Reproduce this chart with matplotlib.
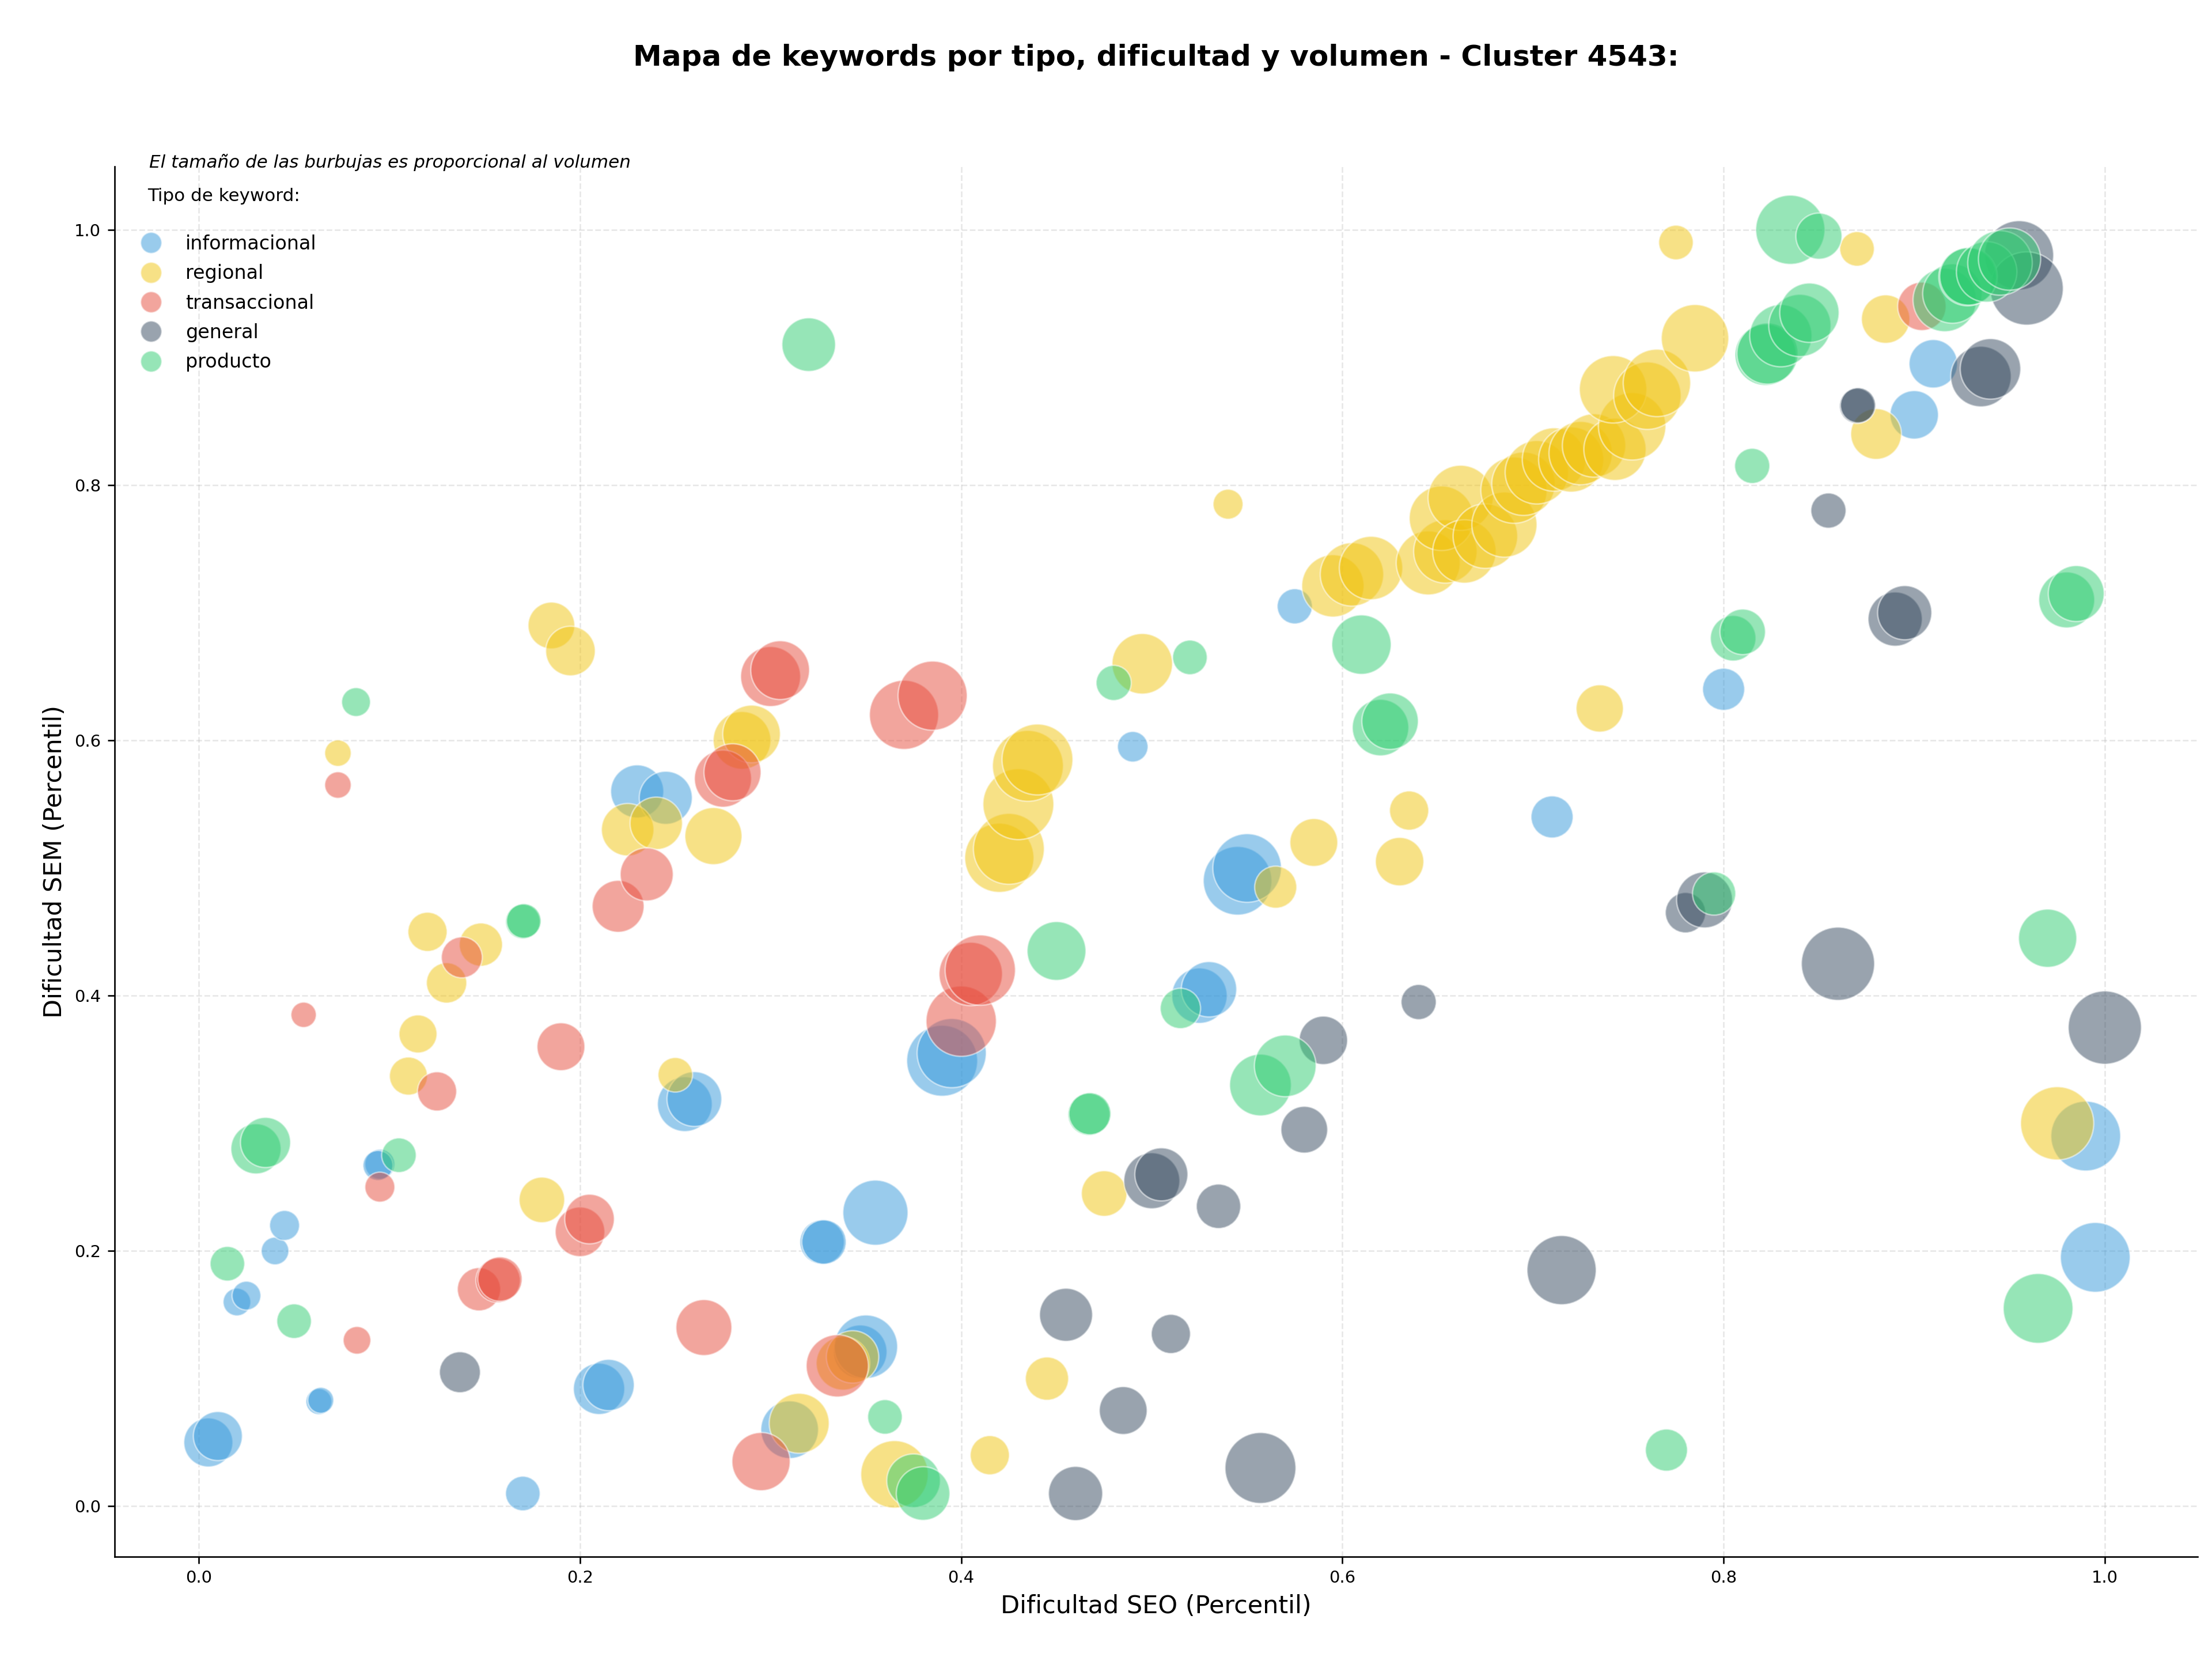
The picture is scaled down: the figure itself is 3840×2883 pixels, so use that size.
import matplotlib
matplotlib.use("Agg")
import matplotlib.pyplot as plt
from matplotlib.lines import Line2D

# ---------------- data ----------------
tipos = ["informacional", "regional", "transaccional", "general", "producto"]
colores = ["#3498db", "#f1c40f", "#e74c3c", "#34495e", "#2ecc71"]

info_seo = [0.005, 0.010, 0.020, 0.025, 0.040, 0.045, 0.063, 0.064, 0.095, 0.094,
            0.170, 0.210, 0.215, 0.230, 0.245, 0.255, 0.260, 0.310, 0.327, 0.328,
            0.347, 0.350, 0.355, 0.390, 0.395, 0.490, 0.525, 0.530, 0.545, 0.550,
            0.575, 0.710, 0.800, 0.900, 0.910, 0.990, 0.995]
info_sem = [0.050, 0.055, 0.160, 0.165, 0.200, 0.220, 0.082, 0.083, 0.268, 0.267,
            0.010, 0.092, 0.095, 0.560, 0.555, 0.315, 0.319, 0.060, 0.207, 0.207,
            0.121, 0.125, 0.230, 0.349, 0.355, 0.595, 0.400, 0.405, 0.490, 0.500,
            0.705, 0.540, 0.640, 0.855, 0.895, 0.290, 0.195]
info_vol = [6500, 6500, 2070, 2250, 2070, 2430, 1820, 1820, 2430, 2430,
            3240, 7130, 7130, 7620, 7620, 8120, 8120, 9000, 5340, 5340,
            7780, 10890, 11490, 13620, 12960, 2530, 8300, 8300, 12750, 12750,
            3350, 4800, 4800, 6350, 6350, 13180, 13180]

reg_seo = [0.073, 0.110, 0.115, 0.120, 0.130, 0.148, 0.180, 0.185, 0.195, 0.225,
           0.240, 0.250, 0.270, 0.285, 0.290, 0.315, 0.338, 0.343, 0.365, 0.415,
           0.420, 0.425, 0.430, 0.435, 0.440, 0.445, 0.475, 0.495, 0.540, 0.565,
           0.585, 0.630, 0.635, 0.735, 0.775, 0.870, 0.880, 0.885, 0.975,
           0.595, 0.605, 0.615, 0.645, 0.654, 0.652, 0.662, 0.664, 0.675, 0.685,
           0.690, 0.695, 0.702, 0.711, 0.720, 0.725, 0.732, 0.743, 0.752, 0.742,
           0.760, 0.765, 0.785]
reg_sem = [0.590, 0.337, 0.370, 0.450, 0.410, 0.440, 0.240, 0.690, 0.670, 0.530,
           0.535, 0.338, 0.525, 0.600, 0.605, 0.065, 0.112, 0.117, 0.025, 0.040,
           0.508, 0.515, 0.550, 0.580, 0.585, 0.100, 0.245, 0.660, 0.785, 0.485,
           0.520, 0.505, 0.545, 0.625, 0.990, 0.985, 0.840, 0.930, 0.300,
           0.721, 0.730, 0.735, 0.739, 0.748, 0.774, 0.790, 0.748, 0.760, 0.769,
           0.796, 0.801, 0.810, 0.820, 0.820, 0.825, 0.831, 0.828, 0.846, 0.875,
           0.870, 0.880, 0.915]
reg_vol = [1900, 3920, 3920, 4160, 4410, 5060, 5620, 5910, 6660, 7450,
           7450, 3240, 8820, 9000, 9000, 9740, 7780, 7450, 12320, 4160,
           12960, 13620, 13620, 13620, 13620, 5060, 5620, 9920, 2430, 4800,
           6200, 6350, 4160, 6050, 3240, 3240, 6970, 6350, 14520,
           10500, 10890, 10890, 11090, 10890, 11290, 11490, 10890, 11290, 11490,
           11900, 10890, 10890, 10890, 11490, 10890, 10890, 10500, 12320, 12320,
           12320, 12320, 12320]

tra_seo = [0.055, 0.073, 0.083, 0.095, 0.125, 0.138, 0.147, 0.157, 0.158, 0.190,
           0.200, 0.205, 0.220, 0.235, 0.265, 0.275, 0.280, 0.295, 0.300, 0.305,
           0.335, 0.370, 0.385, 0.400, 0.405, 0.410, 0.904]
tra_sem = [0.385, 0.565, 0.130, 0.250, 0.325, 0.430, 0.170, 0.177, 0.178, 0.360,
           0.215, 0.225, 0.470, 0.495, 0.140, 0.570, 0.575, 0.035, 0.650, 0.655,
           0.110, 0.620, 0.635, 0.380, 0.417, 0.420, 0.940]
tra_vol = [1740, 1900, 2070, 2430, 4160, 4540, 5060, 5340, 5340, 6200,
           6660, 6660, 7290, 7620, 8470, 8820, 8820, 9180, 9740, 9360,
           10500, 12960, 12960, 13400, 10890, 13400, 6350]

gen_seo = [0.137, 0.455, 0.460, 0.485, 0.500, 0.505, 0.510, 0.535, 0.557, 0.580,
           0.590, 0.640, 0.715, 0.780, 0.790, 0.855, 0.860, 0.870, 0.8705, 0.890,
           0.895, 0.935, 0.940, 0.955, 0.959, 1.000]
gen_sem = [0.105, 0.150, 0.010, 0.075, 0.255, 0.260, 0.135, 0.235, 0.030, 0.295,
           0.365, 0.395, 0.185, 0.465, 0.475, 0.780, 0.425, 0.862, 0.8625, 0.695,
           0.700, 0.885, 0.891, 0.980, 0.954, 0.375]
gen_vol = [4540, 7620, 7950, 6200, 8470, 7620, 4160, 5340, 13620, 5910,
           6350, 3350, 12960, 4410, 8470, 3350, 14520, 3350, 3350, 7950,
           7950, 9920, 9920, 12960, 14520, 14520]

pro_seo = [0.015, 0.030, 0.035, 0.050, 0.0825, 0.105, 0.170, 0.1705, 0.320, 0.360,
           0.375, 0.380, 0.450, 0.467, 0.4675, 0.480, 0.515, 0.520, 0.557, 0.570,
           0.610, 0.620, 0.625, 0.770, 0.795, 0.805, 0.810, 0.815, 0.822, 0.823,
           0.830, 0.840, 0.845, 0.835, 0.850, 0.916, 0.920, 0.928, 0.9285, 0.938,
           0.945, 0.950, 0.965, 0.970, 0.980, 0.985]
pro_sem = [0.190, 0.280, 0.285, 0.145, 0.630, 0.275, 0.458, 0.4585, 0.910, 0.070,
           0.020, 0.010, 0.435, 0.307, 0.3075, 0.645, 0.390, 0.665, 0.330, 0.345,
           0.675, 0.610, 0.615, 0.044, 0.480, 0.680, 0.685, 0.815, 0.902, 0.903,
           0.917, 0.925, 0.935, 1.000, 0.995, 0.945, 0.950, 0.963, 0.9635, 0.967,
           0.974, 0.977, 0.155, 0.445, 0.710, 0.715]
pro_vol = [3240, 6810, 6810, 3240, 2250, 3240, 3240, 3240, 7780, 3240,
           7780, 7780, 9360, 4800, 4800, 3350, 4410, 3240, 10310, 10310,
           9550, 8640, 8640, 4800, 5060, 5620, 5620, 3350, 10110, 10110,
           10500, 10500, 9550, 12960, 5760, 10890, 9550, 9000, 9000, 9920,
           11290, 10500, 13180, 9180, 8470, 8470]

series = [
    (info_seo, info_sem, info_vol),
    (reg_seo, reg_sem, reg_vol),
    (tra_seo, tra_sem, tra_vol),
    (gen_seo, gen_sem, gen_vol),
    (pro_seo, pro_sem, pro_vol),
]

titulo = "Mapa de keywords por tipo, dificultad y volumen - Cluster 4543:"
nota = "El tamaño de las burbujas es proporcional al volumen"

# ---------------- figure ----------------
fig = plt.figure(figsize=(16, 12.0125), dpi=240)
ax = fig.add_axes([0.0517, 0.0628, 0.9419, 0.8370])

for (sx, sy, vol), c, t in zip(series, colores, tipos):
    ax.scatter(sx, sy, s=[v / 10.0 for v in vol], color=c, alpha=0.5,
               edgecolors="white", linewidths=0.8, label=t)

ax.set_xlim(-0.0443, 1.0488)
ax.set_ylim(-0.0395, 1.0496)
ax.set_xticks([0.0, 0.2, 0.4, 0.6, 0.8, 1.0])
ax.set_yticks([0.0, 0.2, 0.4, 0.6, 0.8, 1.0])
ax.tick_params(labelsize=8.7)
ax.grid(True, linestyle="--", alpha=0.3)
ax.set_axisbelow(True)
for sp in ("top", "right"):
    ax.spines[sp].set_visible(False)

ax.set_xlabel("Dificultad SEO (Percentil)", fontsize=12.9)
ax.set_ylabel("Dificultad SEM (Percentil)", fontsize=12.9)

fig.text(0.5226, 0.9652, titulo, ha="center", va="center",
         fontsize=15, fontweight="bold")

ax.text(0.0167, 1.003, nota, transform=ax.transAxes, fontsize=9.3,
        fontstyle="italic", ha="left", va="center")

handles = [Line2D([0], [0], marker="o", linestyle="", markersize=11,
                  markerfacecolor=c, markeredgecolor="white",
                  markeredgewidth=0.8, alpha=0.5) for c in colores]
leg = ax.legend(handles, tipos, title="Tipo de keyword:\n", loc="upper left",
                bbox_to_anchor=(0.0, 0.997), frameon=False, fontsize=10,
                title_fontsize=9.3, labelspacing=0.55)

fig.savefig("out.png", dpi=240)
